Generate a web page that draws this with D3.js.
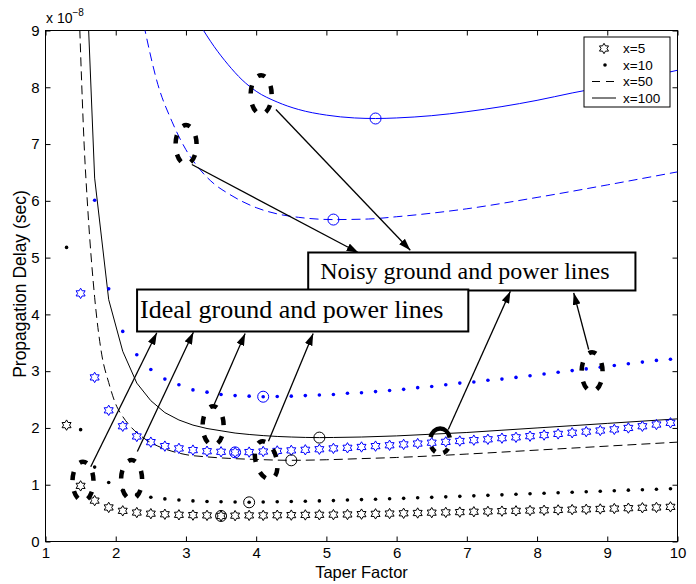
<!DOCTYPE html>
<html>
<head>
<meta charset="utf-8">
<script src="https://cdn.jsdelivr.net/npm/d3@7"></script>
<style>
    body { margin: 0; background: #fff; }
    text { font-family: Arial, "Liberation Sans", Helvetica, sans-serif; }
    .serif { font-family: "Liberation Serif", "Times New Roman", Times, serif; }
</style>
</head>
<body>
<svg id="chart" width="696" height="584"></svg>
<script>
(function () {

    // marker series are sampled every 0.2 from 1.3 to 9.9
    var markerX = [1.3, 1.5, 1.7, 1.9, 2.1, 2.3, 2.5, 2.7, 2.9, 3.1, 3.3, 3.5, 3.7, 3.9, 4.1,
        4.3, 4.5, 4.7, 4.9, 5.1, 5.3, 5.5, 5.7, 5.9, 6.1, 6.3, 6.5, 6.7, 6.9, 7.1, 7.3, 7.5,
        7.7, 7.9, 8.1, 8.3, 8.5, 8.7, 8.9, 9.1, 9.3, 9.5, 9.7, 9.9];

    // x=5, ideal (black stars)
    var idealX5 = [2.05, 0.98, 0.72, 0.60, 0.54, 0.51, 0.49, 0.48, 0.47, 0.465, 0.46, 0.45, 0.455,
        0.46, 0.46, 0.463, 0.465, 0.468, 0.47, 0.473, 0.476, 0.482, 0.487, 0.492, 0.497, 0.502,
        0.508, 0.513, 0.518, 0.524, 0.53, 0.535, 0.54, 0.545, 0.55, 0.556, 0.562, 0.567, 0.573,
        0.58, 0.587, 0.594, 0.60, 0.61];
    // x=10, ideal (black dots)
    var idealX10 = [5.18, 1.97, 1.31, 1.04, 0.90, 0.83, 0.78, 0.75, 0.73, 0.715, 0.705, 0.70, 0.695,
        0.69, 0.695, 0.70, 0.705, 0.71, 0.715, 0.72, 0.73, 0.738, 0.745, 0.753, 0.76, 0.77, 0.778,
        0.786, 0.795, 0.804, 0.813, 0.822, 0.832, 0.84, 0.85, 0.858, 0.868, 0.877, 0.886, 0.895,
        0.904, 0.912, 0.921, 0.93];
    // x=5, noisy (blue stars)
    var noisyX5 = [null, 4.37, 2.89, 2.31, 2.03, 1.85, 1.75, 1.68, 1.64, 1.61, 1.59, 1.58, 1.57,
        1.575, 1.585, 1.595, 1.605, 1.615, 1.625, 1.64, 1.65, 1.665, 1.68, 1.695, 1.71, 1.725,
        1.74, 1.755, 1.77, 1.785, 1.80, 1.82, 1.835, 1.855, 1.875, 1.895, 1.915, 1.935, 1.955,
        1.975, 2.00, 2.03, 2.06, 2.09];
    // x=10, noisy (blue dots)
    var noisyX10 = [null, null, 6.01, 4.45, 3.70, 3.29, 3.03, 2.86, 2.76, 2.67, 2.63, 2.59, 2.57,
        2.56, 2.55, 2.553, 2.56, 2.57, 2.58, 2.59, 2.61, 2.62, 2.64, 2.66, 2.68, 2.71, 2.73, 2.76,
        2.79, 2.81, 2.84, 2.86, 2.89, 2.92, 2.95, 2.98, 3.01, 3.04, 3.07, 3.10, 3.13, 3.16, 3.19,
        3.21];

    // x=50 and x=100 curves
    var idealX50X = [1.45, 1.5, 1.55, 1.6, 1.7, 1.8, 1.9, 2.0, 2.1, 2.2, 2.4, 2.6, 2.8, 3.0, 3.3,
        3.6, 4.0, 4.5, 5.0, 5.5, 6.0, 7.0, 8.0, 9.0, 10];
    var idealX50Y = [10.5, 8.6, 7.0, 5.9, 4.3, 3.3, 2.8, 2.42, 2.2, 2.04, 1.82, 1.68, 1.59, 1.53,
        1.49, 1.465, 1.445, 1.43, 1.44, 1.46, 1.48, 1.54, 1.61, 1.68, 1.75];

    var idealX100X = [1.5, 1.7, 1.9, 2.1, 2.3, 2.5, 2.7, 2.9, 3.1, 3.3, 3.5, 3.7, 3.9, 4.1, 4.3,
        4.5, 4.7, 4.9, 5.1, 5.5, 6.0, 6.5, 7.0, 7.5, 8.0, 8.5, 9.0, 9.5, 10];
    var idealX100Y = [12.5, 6.4, 4.26, 3.35, 2.79, 2.48, 2.27, 2.14, 2.05, 1.99, 1.95, 1.91, 1.885,
        1.865, 1.85, 1.84, 1.833, 1.83, 1.832, 1.84, 1.86, 1.89, 1.92, 1.96, 2.00, 2.04, 2.08,
        2.12, 2.16];

    var noisyX50X = [2.4, 2.6, 2.8, 3.0, 3.2, 3.4, 3.6, 3.8, 4.0, 4.3, 4.6, 5.1, 5.6, 6.0, 7.0,
        8.0, 9.0, 10];
    var noisyX50Y = [9.1, 8.05, 7.4, 6.9, 6.55, 6.3, 6.13, 5.99, 5.88, 5.77, 5.71, 5.67, 5.68,
        5.72, 5.86, 6.06, 6.28, 6.51];

    var noisyX100X = [3.2, 3.4, 3.6, 3.8, 4.0, 4.3, 4.6, 5.0, 5.4, 5.7, 6.0, 6.5, 7.0, 7.5, 8.0,
        8.5, 9.0, 9.5, 10];
    var noisyX100Y = [9.1, 8.72, 8.40, 8.13, 7.93, 7.74, 7.61, 7.51, 7.46, 7.45, 7.46, 7.50, 7.57,
        7.66, 7.77, 7.90, 8.02, 8.16, 8.30];

    var xTicks = [1, 2, 3, 4, 5, 6, 7, 8, 9, 10];
    var yTicks = [0, 1, 2, 3, 4, 5, 6, 7, 8, 9];
    var legendLabels = ['x=5', 'x=10', 'x=50', 'x=100'];

    // annotation marks, in data units
    var ellipseCenters = [[1.534, 1.06], [2.226, 1.09], [3.387, 2.04], [4.142, 1.43],
        [6.62, 1.77], [8.784, 2.99], [3.002, 6.99], [4.071, 7.87]];
    var idealArrows = [[1.644, 1.316, 2.585, 3.676], [2.308, 1.585, 3.106, 3.686],
        [3.391, 2.383, 3.843, 3.663], [4.175, 1.766, 4.812, 3.663]];
    var noisyArrows = [[3.084, 6.64, 5.458, 5.085], [4.281, 7.608, 6.195, 5.13],
        [6.736, 1.973, 7.62, 4.408], [8.735, 3.381, 8.522, 4.38]];
    var boxes = [
        { text: 'Noisy ground and power lines', x0: 4.741, x1: 9.401, y0: 5.09, y1: 4.421 },
        { text: 'Ideal ground and power lines', x0: 2.304, x1: 7.021, y0: 4.438, y1: 3.699 }
    ];

    var BLUE = '#0000ff';
    var svg = d3.select('#chart');

    var x = d3.scaleLinear().domain([1, 10]).range([45.5, 677.5]);
    var y = d3.scaleLinear().domain([0, 9]).range([541.5, 30.5]);

    svg.append('defs').append('clipPath').attr('id', 'plot-clip')
        .append('rect')
        .attr('x', x(1)).attr('y', y(9))
        .attr('width', x(10) - x(1)).attr('height', y(0) - y(9));

    svg.select('defs').append('marker')
        .attr('id', 'head')
        .attr('markerUnits', 'userSpaceOnUse')
        .attr('markerWidth', 12).attr('markerHeight', 8)
        .attr('refX', 12).attr('refY', 4)
        .attr('orient', 'auto')
        .append('path')
        .attr('d', 'M0,0L12,4L0,8Z')
        .attr('fill', '#000');

    // axes, ticks pointing inwards on all four sides
    function styleAxis(g) {
        g.select('.domain').remove();
        g.selectAll('.tick line').attr('stroke', '#000');
        g.selectAll('.tick text').attr('fill', '#000').style('font-size', '15px');
    }

    svg.append('g')
        .attr('transform', 'translate(0,' + y(0) + ')')
        .call(d3.axisBottom(x).tickValues(xTicks).tickFormat(d3.format('d')).tickSize(-5).tickPadding(6))
        .call(styleAxis);
    svg.append('g')
        .attr('transform', 'translate(0,' + y(9) + ')')
        .call(d3.axisTop(x).tickValues(xTicks).tickFormat('').tickSize(-5))
        .call(styleAxis);
    svg.append('g')
        .attr('transform', 'translate(' + x(1) + ',0)')
        .call(d3.axisLeft(y).tickValues(yTicks).tickFormat(d3.format('d')).tickSize(-5).tickPadding(6))
        .call(styleAxis);
    svg.append('g')
        .attr('transform', 'translate(' + x(10) + ',0)')
        .call(d3.axisRight(y).tickValues(yTicks).tickFormat('').tickSize(-5))
        .call(styleAxis);

    svg.append('rect')
        .attr('x', x(1)).attr('y', y(9))
        .attr('width', x(10) - x(1)).attr('height', y(0) - y(9))
        .attr('fill', 'none').attr('stroke', '#000');

    // exponent label
    var expo = svg.append('text').attr('x', 46).attr('y', 23).style('font-size', '14px');
    expo.append('tspan').text('x 10');
    expo.append('tspan').attr('dy', -7).style('font-size', '10px').text('\u22128');

    svg.append('text')
        .attr('x', x(5.5)).attr('y', 578)
        .attr('text-anchor', 'middle')
        .style('font-size', '16.5px')
        .text('Taper Factor');
    svg.append('text')
        .attr('transform', 'translate(26,' + (y(4.5) - 2) + ') rotate(-90)')
        .attr('text-anchor', 'middle')
        .style('font-size', '17.5px')
        .text('Propagation Delay (sec)');

    var plot = svg.append('g').attr('clip-path', 'url(#plot-clip)');

    function hexagram(r) {
        var pts = [];
        for (var i = 0; i < 12; i++) {
            var a = -Math.PI / 2 + i * Math.PI / 6;
            var rr = i % 2 === 0 ? r : r / Math.sqrt(3);
            pts.push([rr * Math.cos(a), rr * Math.sin(a)]);
        }
        return 'M' + pts.join('L') + 'Z';
    }

    function pairs(xs, ys) {
        return xs.map(function (d, i) { return [d, ys[i]]; })
            .filter(function (d) { return d[1] !== null; });
    }

    function drawLine(xs, ys, color, dash, curve) {
        var line = d3.line()
            .x(function (d) { return x(d[0]); })
            .y(function (d) { return y(d[1]); })
            .curve(curve);
        plot.append('path')
            .datum(pairs(xs, ys))
            .attr('d', line)
            .attr('fill', 'none')
            .attr('stroke', color)
            .attr('stroke-width', 1)
            .attr('stroke-dasharray', dash);
    }

    function drawStars(ys, color) {
        plot.append('g').selectAll('path')
            .data(pairs(markerX, ys))
            .join('path')
            .attr('transform', function (d) { return 'translate(' + x(d[0]) + ',' + y(d[1]) + ')'; })
            .attr('d', hexagram(5.2))
            .attr('fill', 'none')
            .attr('stroke', color)
            .attr('stroke-width', 1);
    }

    function drawDots(ys, color) {
        plot.append('g').selectAll('circle')
            .data(pairs(markerX, ys))
            .join('circle')
            .attr('cx', function (d) { return x(d[0]); })
            .attr('cy', function (d) { return y(d[1]); })
            .attr('r', 1.8)
            .attr('fill', color);
    }

    // circle around the lowest point of a series
    function markMin(xs, ys, color) {
        var m = d3.least(pairs(xs, ys), function (d) { return d[1]; });
        plot.append('circle')
            .attr('cx', x(m[0])).attr('cy', y(m[1]))
            .attr('r', 5.5)
            .attr('fill', 'none')
            .attr('stroke', color)
            .attr('stroke-width', 1);
    }

    drawLine(idealX100X, idealX100Y, '#000', null, d3.curveLinear);
    drawLine(idealX50X, idealX50Y, '#000', '9,5', d3.curveMonotoneX);
    drawLine(noisyX100X, noisyX100Y, BLUE, null, d3.curveMonotoneX);
    drawLine(noisyX50X, noisyX50Y, BLUE, '9,5', d3.curveMonotoneX);

    drawStars(idealX5, '#000');
    drawDots(idealX10, '#000');
    drawStars(noisyX5, BLUE);
    drawDots(noisyX10, BLUE);

    markMin(markerX, idealX5, '#000');
    markMin(markerX, idealX10, '#000');
    markMin(idealX50X, idealX50Y, '#000');
    markMin(idealX100X, idealX100Y, '#000');
    markMin(markerX, noisyX5, BLUE);
    markMin(markerX, noisyX10, BLUE);
    markMin(noisyX50X, noisyX50Y, BLUE);
    markMin(noisyX100X, noisyX100Y, BLUE);

    // legend
    var leg = svg.append('g').attr('transform', 'translate(584,37)');
    leg.append('rect')
        .attr('width', 86).attr('height', 70)
        .attr('fill', '#fff').attr('stroke', '#000');
    var rows = leg.selectAll('g.row')
        .data(legendLabels)
        .join('g')
        .attr('class', 'row')
        .attr('transform', function (d, i) { return 'translate(0,' + (11.5 + i * 16.5) + ')'; });
    rows.append('text')
        .attr('x', 39).attr('dy', '0.35em')
        .style('font-size', '13.5px')
        .text(function (d) { return d; });
    rows.filter(function (d, i) { return i === 0; }).append('path')
        .attr('transform', 'translate(20,0)')
        .attr('d', hexagram(5.2))
        .attr('fill', 'none').attr('stroke', '#000');
    rows.filter(function (d, i) { return i === 1; }).append('circle')
        .attr('cx', 21).attr('r', 1.8).attr('fill', '#000');
    rows.filter(function (d, i) { return i >= 2; }).append('line')
        .attr('x1', 8).attr('x2', 32)
        .attr('stroke', '#000')
        .attr('stroke-dasharray', function (d, i) { return i === 0 ? '8,6' : null; });

    // annotations: dashed ellipses, arrows and text boxes
    var ann = svg.append('g');

    function ellipsePath(cx, cy, rx, ry) {
        return 'M' + cx + ',' + (cy - ry) +
            'A' + rx + ',' + ry + ' 0 1 1 ' + cx + ',' + (cy + ry) +
            'A' + rx + ',' + ry + ' 0 1 1 ' + cx + ',' + (cy - ry);
    }

    ellipseCenters.forEach(function (c, i) {
        var cx = x(c[0]);
        var cy = y(c[1]);
        var small = i === 4;
        var p = ann.append('path')
            .attr('d', ellipsePath(cx, cy, small ? 10 : 10.5, small ? 12.5 : 19.5))
            .attr('fill', 'none')
            .attr('stroke', '#000')
            .attr('stroke-width', 4.5);
        if (i === 3) {
            p.attr('transform', 'rotate(-15,' + cx + ',' + cy + ')');
        }
        var len = p.node().getTotalLength();
        if (small) {
            // long arc over the top, two short dashes below
            p.attr('stroke-dasharray', [0.2, 0.16, 0.09, 0.12, 0.09, 0.14, 0.2]
                .map(function (f) { return f * len; }).join(','));
        } else {
            p.attr('stroke-dasharray', (0.085 * len) + ',' + (0.115 * len))
                .attr('stroke-dashoffset', 0.0425 * len);
        }
    });

    idealArrows.concat(noisyArrows).forEach(function (a) {
        ann.append('line')
            .attr('x1', x(a[0])).attr('y1', y(a[1]))
            .attr('x2', x(a[2])).attr('y2', y(a[3]))
            .attr('stroke', '#000')
            .attr('stroke-width', 1.3)
            .attr('marker-end', 'url(#head)');
    });

    boxes.forEach(function (b, i) {
        ann.append('rect')
            .attr('x', x(b.x0)).attr('y', y(b.y0))
            .attr('width', x(b.x1) - x(b.x0)).attr('height', y(b.y1) - y(b.y0))
            .attr('fill', '#fff')
            .attr('stroke', '#000')
            .attr('stroke-width', 2);
        ann.append('text')
            .attr('class', 'serif')
            .attr('x', x(b.x0) + (i === 0 ? 12 : 3))
            .attr('y', y(b.y1) - (i === 0 ? 11.5 : 13.5))
            .style('font-size', i === 0 ? '24px' : '26px')
            .text(b.text);
    });

})();
</script>
</body>
</html>
